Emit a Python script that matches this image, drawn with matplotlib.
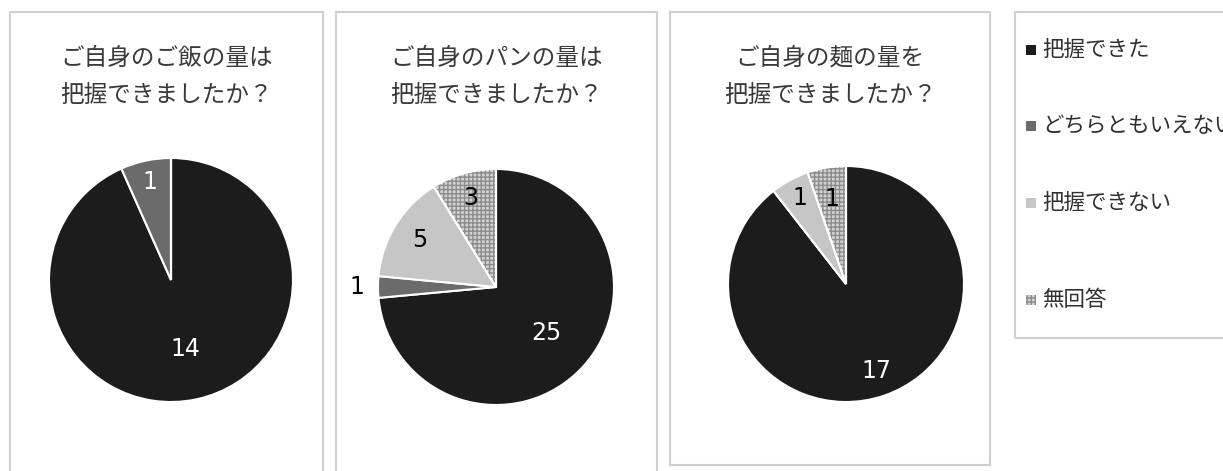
import matplotlib.pyplot as plt
import numpy as np
from matplotlib.patches import Rectangle, Wedge

plt.rcParams['font.family'] = ['Noto Sans CJK JP', 'DejaVu Sans']

W, H = 1223, 471

categories = ['把握できた', 'どちらともいえない', '把握できない', '無回答']
titles = ['ご自身のご飯の量は\n把握できましたか？',
          'ご自身のパンの量は\n把握できましたか？',
          'ご自身の麺の量を\n把握できましたか？']
rice = [14, 1, 0, 0]
bread = [25, 1, 5, 3]
noodles = [17, 0, 1, 1]

colors = ['#1c1c1c', '#6b6b6b', '#c6c6c6', '#d2d2d2']
text_colors = ['white', 'white', 'black', 'black']

# pixel layout: panel box, pie centre and radius, label distances
panels = [(10, 12, 323, 480), (336, 12, 657, 480), (670, 12, 990, 465)]
centres = [(171, 280, 122), (496, 287, 118), (846, 284, 118)]
label_dist = [[0.58, 0.82, 0, 0], [0.58, 1.18, 0.76, 0.78], [0.78, 0, 0.83, 0.73]]

fig = plt.figure(figsize=(W / 100, H / 100), dpi=100)
fig.patch.set_facecolor('white')


def box(x0, y0, x1, y1):
    fig.patches.append(Rectangle((x0 / W, 1 - y1 / H), (x1 - x0) / W, (y1 - y0) / H,
                                 transform=fig.transFigure, fill=False,
                                 edgecolor='#cfcfcf', linewidth=1.5))


for i, values in enumerate([rice, bread, noodles]):
    x0, y0, x1, y1 = panels[i]
    box(x0, y0, x1, y1)
    fig.text((x0 + x1) / 2 / W, 1 - 77 / H, titles[i], ha='center', va='center',
             fontsize=17, color='#3a3a3a', linespacing=1.82)

    cx, cy, r = centres[i]
    ax = fig.add_axes([(cx - r) / W, (H - cy - r) / H, 2 * r / W, 2 * r / H])
    ax.axis('off')

    wedges, _ = ax.pie(values, colors=colors, startangle=90, counterclock=False,
                       radius=1, wedgeprops=dict(edgecolor='white', linewidth=1.5))
    ax.set_xlim(-1, 1)
    ax.set_ylim(-1, 1)
    ax.set_aspect('equal')
    # speckled texture on the "no answer" slice
    w = wedges[3]
    if values[3]:
        ax.add_patch(Wedge(w.center, w.r, w.theta1, w.theta2, facecolor='none',
                           edgecolor='#8c8c8c', hatch='++++', linewidth=0))
        ax.add_patch(Wedge(w.center, w.r, w.theta1, w.theta2, facecolor='none',
                           edgecolor='white', linewidth=1.5))

    for j, wd in enumerate(wedges):
        if values[j] == 0:
            continue
        ang = np.deg2rad((wd.theta1 + wd.theta2) / 2)
        d = label_dist[i][j]
        c = 'black' if d > 1 else text_colors[j]
        ax.text(d * np.cos(ang), d * np.sin(ang), str(values[j]),
                ha='center', va='center', fontsize=17, family='DejaVu Sans',
                color=c, clip_on=False)

# legend
box(1015, 12, 1240, 338)
leg_y = [50, 126, 203, 300]
for j, name in enumerate(categories):
    y = leg_y[j]
    sq = Rectangle((1026 / W, 1 - (y + 5) / H), 10 / W, 10 / H, transform=fig.transFigure,
                   facecolor=colors[j], edgecolor='none')
    if j == 3:
        sq.set_hatch('++++')
        sq.set_edgecolor('#8c8c8c')
        sq.set_linewidth(0)
    fig.patches.append(sq)
    fig.text(1042 / W, 1 - y / H, name, ha='left', va='center', fontsize=15.5,
             color='#303030')

fig.savefig('out.png', dpi=100)
